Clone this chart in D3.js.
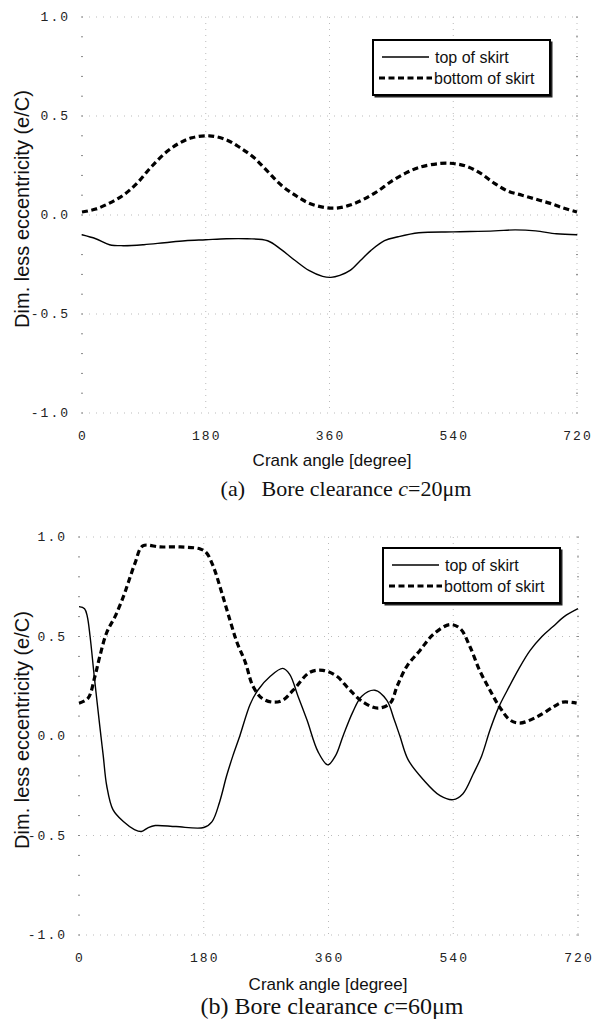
<!DOCTYPE html>
<html>
<head>
<meta charset="utf-8">
<script src="https://cdn.jsdelivr.net/npm/d3@7"></script>
<style>
	body { margin: 0; background: #fff; }
	svg { display: block; }
	.tick-label { font-family: "Liberation Mono", monospace; font-size: 13px; letter-spacing: 2px; fill: #222; }
	.axis-title { font-family: "Liberation Sans", Arial, sans-serif; fill: #111; }
	.caption { font-family: "Liberation Serif", "Times New Roman", serif; fill: #111; }
	.legend-text { font-family: "Liberation Sans", Arial, sans-serif; font-size: 16px; fill: #111; }
</style>
</head>
<body>
<svg id="chart" width="594" height="1027"></svg>
<script>
// axis ticks shared by both panels
var xTicks = [0, 180, 360, 540, 720];
var yTicks = [-1.0, -0.5, 0.0, 0.5, 1.0];
var seriesNames = ['top of skirt', 'bottom of skirt'];

// (a) c = 20um : [crank angle, e/C]
var topSkirtA = [[0, -0.10], [20, -0.12], [40, -0.15], [60, -0.155], [90, -0.15], [120, -0.14],
	[150, -0.13], [180, -0.125], [210, -0.12], [240, -0.12], [270, -0.13], [290, -0.175],
	[310, -0.23], [330, -0.28], [350, -0.31], [362, -0.315], [375, -0.305], [390, -0.28],
	[405, -0.23], [420, -0.18], [440, -0.13], [460, -0.11], [490, -0.09], [540, -0.085],
	[600, -0.08], [630, -0.075], [660, -0.08], [690, -0.095], [720, -0.10]];
var bottomSkirtA = [[0, 0.015], [20, 0.03], [40, 0.06], [60, 0.10], [80, 0.16], [100, 0.24],
	[120, 0.31], [140, 0.36], [160, 0.39], [185, 0.40], [210, 0.38], [230, 0.34], [250, 0.29],
	[270, 0.22], [290, 0.15], [310, 0.10], [330, 0.06], [350, 0.04], [370, 0.035], [390, 0.05],
	[410, 0.08], [430, 0.12], [450, 0.17], [470, 0.21], [490, 0.24], [520, 0.26], [540, 0.26],
	[560, 0.245], [580, 0.21], [600, 0.16], [620, 0.12], [640, 0.10], [660, 0.08], [680, 0.06],
	[700, 0.035], [720, 0.015]];

// (b) c = 60um
var topSkirtB = [[0, 0.65], [8, 0.64], [12, 0.60], [16, 0.50], [22, 0.30], [30, 0.05], [35, -0.10],
	[40, -0.25], [49, -0.37], [64, -0.43], [80, -0.47], [90, -0.48], [100, -0.46], [110, -0.45],
	[140, -0.455], [180, -0.46], [192, -0.43], [203, -0.33], [213, -0.20], [222, -0.10], [232, 0.0],
	[247, 0.16], [258, 0.23], [276, 0.30], [294, 0.34], [304, 0.31], [316, 0.20], [329, 0.08],
	[345, -0.08], [359, -0.145], [370, -0.10], [381, 0.0], [395, 0.12], [408, 0.20], [427, 0.23],
	[444, 0.18], [455, 0.08], [463, 0.0], [475, -0.12], [497, -0.22], [521, -0.30], [540, -0.32],
	[554, -0.29], [569, -0.19], [581, -0.10], [593, 0.03], [605, 0.14], [618, 0.23], [635, 0.34],
	[651, 0.43], [668, 0.50], [684, 0.55], [700, 0.60], [720, 0.64]];
var bottomSkirtB = [[0, 0.165], [13, 0.19], [23, 0.30], [30, 0.40], [40, 0.52], [52, 0.60],
	[64, 0.70], [71, 0.77], [81, 0.87], [92, 0.955], [117, 0.95], [146, 0.95], [175, 0.94],
	[184, 0.92], [194, 0.85], [206, 0.72], [218, 0.58], [228, 0.47], [240, 0.37], [251, 0.25],
	[264, 0.19], [280, 0.17], [294, 0.18], [309, 0.23], [333, 0.32], [352, 0.33], [372, 0.30],
	[391, 0.23], [410, 0.17], [431, 0.14], [449, 0.165], [459, 0.25], [473, 0.35], [492, 0.43],
	[511, 0.51], [535, 0.56], [550, 0.54], [564, 0.45], [578, 0.33], [593, 0.23], [607, 0.145],
	[622, 0.08], [636, 0.065], [660, 0.095], [684, 0.145], [698, 0.17], [718, 0.165]];

var svg = d3.select('#chart');

function drawPanel(p) {
	var x = d3.scaleLinear().domain([0, 720]).range([p.left, p.right]);
	var y = d3.scaleLinear().domain([-1, 1]).range([p.bottom, p.top]);
	var g = svg.append('g');

	// faint dotted grid
	g.selectAll('.vgrid').data(xTicks.slice(1)).enter().append('line')
		.attr('x1', function (d) { return x(d); })
		.attr('x2', function (d) { return x(d); })
		.attr('y1', y(1)).attr('y2', y(-1))
		.attr('stroke', '#aaa').attr('stroke-width', 0.8)
		.attr('stroke-dasharray', '1,5');
	g.selectAll('.hgrid').data(yTicks).enter().append('line')
		.attr('x1', x(0)).attr('x2', x(720))
		.attr('y1', function (d) { return y(d); })
		.attr('y2', function (d) { return y(d); })
		.attr('stroke', '#aaa').attr('stroke-width', 0.8)
		.attr('stroke-dasharray', '1,6');

	// small minor ticks along left and right edges
	var minor = d3.range(-10, 11).map(function (i) { return i / 10; });
	[0, 720].forEach(function (edge) {
		g.selectAll(null).data(minor).enter().append('line')
			.attr('x1', x(edge) - 1).attr('x2', x(edge) + 1)
			.attr('y1', function (d) { return y(d); })
			.attr('y2', function (d) { return y(d); })
			.attr('stroke', '#888').attr('stroke-width', 1);
	});

	// tick labels
	g.selectAll('.ylab').data(yTicks).enter().append('text')
		.attr('class', 'tick-label')
		.attr('x', p.left - 12)
		.attr('y', function (d) { return y(d) + 4; })
		.attr('text-anchor', 'end')
		.text(function (d) { return d3.format('.1f')(d).replace('\u2212', '-'); });
	g.selectAll('.xlab').data(xTicks).enter().append('text')
		.attr('class', 'tick-label')
		.attr('x', function (d) { return x(d) + 1; })
		.attr('y', y(-1) + 27)
		.attr('text-anchor', 'middle')
		.text(function (d) { return d; });

	// curves
	var line = d3.line()
		.x(function (d) { return x(d[0]); })
		.y(function (d) { return y(d[1]); })
		.curve(d3.curveCatmullRom);
	g.append('path').attr('d', line(p.solid))
		.attr('fill', 'none').attr('stroke', '#000').attr('stroke-width', 1.4);
	g.append('path').attr('d', line(p.dashed))
		.attr('fill', 'none').attr('stroke', '#000').attr('stroke-width', 3.2)
		.attr('stroke-dasharray', '6,3.5');

	// legend
	var lg = g.append('g').attr('transform', 'translate(' + p.legendX + ',' + p.legendY + ')');
	lg.append('rect').attr('x', 1.5).attr('y', 1.5).attr('width', 178).attr('height', 56)
		.attr('fill', '#222');
	lg.append('rect').attr('x', 0).attr('y', 0).attr('width', 177).attr('height', 55)
		.attr('fill', '#fff').attr('stroke', '#000').attr('stroke-width', 2);
	lg.append('line').attr('x1', 9).attr('x2', 56).attr('y1', 17).attr('y2', 17)
		.attr('stroke', '#000').attr('stroke-width', 1.3);
	lg.append('line').attr('x1', 6).attr('x2', 59).attr('y1', 38).attr('y2', 38)
		.attr('stroke', '#000').attr('stroke-width', 3.2).attr('stroke-dasharray', '6,3.5');
	lg.append('text').attr('class', 'legend-text').attr('x', 62).attr('y', 23).text(seriesNames[0]);
	lg.append('text').attr('class', 'legend-text').attr('x', 61).attr('y', 44).text(seriesNames[1]);

	// titles
	svg.append('text').attr('class', 'axis-title')
		.attr('transform', 'translate(22,' + (y(0) - 6) + ') rotate(-90)')
		.attr('text-anchor', 'middle').attr('dy', '0.35em')
		.style('font-size', '20px')
		.text('Dim. less eccentricity (e/C)');
	svg.append('text').attr('class', 'axis-title')
		.attr('x', p.titleX).attr('y', p.titleY)
		.attr('text-anchor', 'middle')
		.style('font-size', '17px')
		.text('Crank angle [degree]');

	var cap = svg.append('text').attr('class', 'caption')
		.attr('x', p.capX).attr('y', p.capY)
		.attr('text-anchor', 'middle')
		.style('font-size', p.capSize + 'px');
	cap.append('tspan').attr('xml:space', 'preserve').text(p.capPrefix + ' Bore clearance ');
	cap.append('tspan').style('font-style', 'italic').text('c');
	cap.append('tspan').text('=' + p.capValue + '\u03bcm');
}

drawPanel({
	left: 82, right: 577, top: 17, bottom: 413,
	solid: topSkirtA, dashed: bottomSkirtA,
	legendX: 373, legendY: 40,
	titleX: 332, titleY: 466,
	capX: 346, capY: 496, capSize: 22, capPrefix: '(a)\u00a0\u00a0', capValue: 20
});
drawPanel({
	left: 79, right: 578, top: 537, bottom: 935,
	solid: topSkirtB, dashed: bottomSkirtB,
	legendX: 383, legendY: 548,
	titleX: 328, titleY: 990,
	capX: 332, capY: 1014, capSize: 24, capPrefix: '(b)', capValue: 60
});
</script>
</body>
</html>
